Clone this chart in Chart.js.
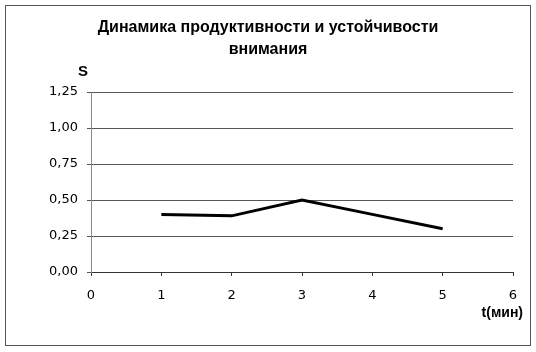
<!DOCTYPE html>
<html>
<head>
<meta charset="utf-8">
<script src="https://cdn.jsdelivr.net/npm/chart.js@4"></script>
<style>
  body { margin: 0; background: #fff; }
</style>
</head>
<body>
<canvas id="attention_chart" width="536" height="352"></canvas>
<script>
var titleLines = ["Динамика продуктивности и устойчивости", "внимания"];
var yAxisTitle = "S";
var xAxisTitle = "t(мин)";

var timeMinutes = [1, 2, 3, 4, 5];
var sValues = [0.40, 0.39, 0.50, 0.40, 0.30];

var xTickValues = [0, 1, 2, 3, 4, 5, 6];
var yTickValues = [0, 0.25, 0.5, 0.75, 1.0, 1.25];

var points = [];
for (var i = 0; i < timeMinutes.length; i++) {
    points.push({ x: timeMinutes[i], y: sValues[i] });
}

// frame round the whole picture and the two axis captions
var framePlugin = {
    id: 'frame',
    afterDraw: function(chart) {
        var ctx = chart.ctx;
        var area = chart.chartArea;
        ctx.save();
        ctx.strokeStyle = '#555';
        ctx.lineWidth = 1;
        ctx.strokeRect(5.5, 5.5, 525, 340);

        ctx.fillStyle = '#000';
        ctx.font = 'bold 15px "Liberation Sans", Arial, sans-serif';
        ctx.textAlign = 'center';
        ctx.textBaseline = 'middle';
        ctx.fillText(yAxisTitle, area.left - 8, 72);

        ctx.font = 'bold 14px "Liberation Sans", Arial, sans-serif';
        ctx.textAlign = 'right';
        ctx.fillText(xAxisTitle, area.right + 10, 313);
        ctx.restore();
    }
};

var ctxChart = document.getElementById("attention_chart").getContext("2d");

var attention_chart = new Chart(ctxChart, {
    type: 'line',
    data: {
        datasets: [{
            data: points,
            borderColor: '#000',
            borderWidth: 3,
            pointRadius: 0,
            tension: 0,
            fill: false
        }]
    },
    options: {
        responsive: false,
        animation: false,
        devicePixelRatio: 1,
        layout: { padding: { left: 23, right: 23, top: 0, bottom: 0 } },
        plugins: {
            legend: { display: false },
            tooltip: { enabled: false },
            title: {
                display: true,
                text: titleLines,
                color: '#000',
                font: { family: '"Liberation Sans", Arial, sans-serif', size: 16, weight: 'bold', lineHeight: 1.375 },
                padding: { top: 17, bottom: 31 }
            }
        },
        scales: {
            x: {
                type: 'linear',
                min: 0,
                max: 6,
                afterBuildTicks: function(scale) {
                    scale.ticks = xTickValues.map(function(v) { return { value: v }; });
                },
                afterFit: function(scale) { scale.height = 80; },
                grid: {
                    drawOnChartArea: false,
                    drawTicks: true,
                    tickLength: 4,
                    color: '#333'
                },
                border: { color: '#333', width: 1 },
                ticks: {
                    color: '#000',
                    padding: 12,
                    font: { family: '"DejaVu Sans", sans-serif', size: 13 }
                }
            },
            y: {
                min: 0,
                max: 1.25,
                afterBuildTicks: function(scale) {
                    scale.ticks = yTickValues.map(function(v) { return { value: v }; });
                },
                afterFit: function(scale) { scale.width = 68; },
                grid: {
                    color: '#555',
                    tickLength: 4,
                    lineWidth: 1
                },
                border: { color: '#888', width: 1 },
                ticks: {
                    color: '#000',
                    padding: 9,
                    font: { family: '"DejaVu Sans", sans-serif', size: 13 },
                    callback: function(value) {
                        return value.toFixed(2).replace('.', ',');
                    }
                }
            }
        }
    },
    plugins: [framePlugin]
});
</script>
</body>
</html>
